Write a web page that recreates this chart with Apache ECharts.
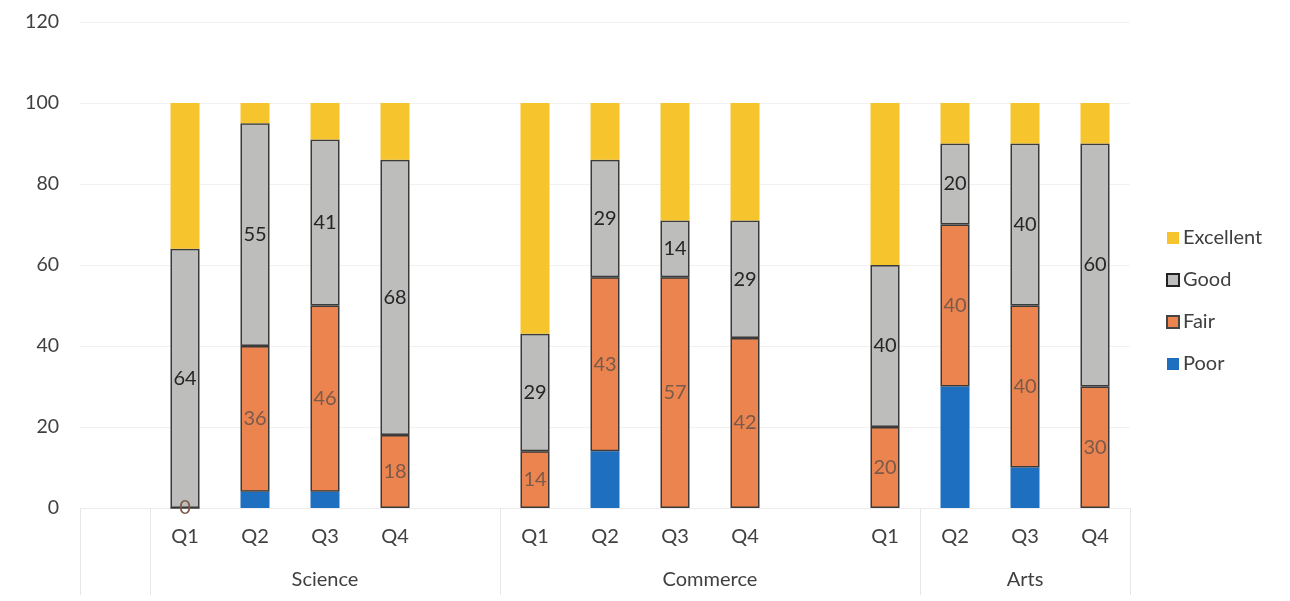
<!DOCTYPE html>
<html>
<head>
<meta charset="utf-8">
<script src="https://cdn.jsdelivr.net/npm/echarts@6/dist/echarts.min.js"></script>
<style>html,body{margin:0;padding:0;background:#fff}#c{width:1290px;height:601px}</style>
</head>
<body>
<div id="c"></div>
<script>
// Category slots (blank slots separate groups, as in the original sheet)
const categories = ['', 'Q1', 'Q2', 'Q3', 'Q4', '', 'Q1', 'Q2', 'Q3', 'Q4', '', 'Q1', 'Q2', 'Q3', 'Q4'];
const poor      = [null, 0, 4, 4, 0, null, 0, 14, 0, 0, null, 0, 30, 10, 0];
const fair      = [null, 0, 36, 46, 18, null, 14, 43, 57, 42, null, 20, 40, 40, 30];
const good      = [null, 64, 55, 41, 68, null, 29, 29, 14, 29, null, 40, 20, 40, 60];
const excellent = [null, 36, 5, 9, 14, null, 57, 14, 29, 29, null, 40, 10, 10, 10];
const yTicks = [0, 20, 40, 60, 80, 100, 120];
// Group row: names and their slot spans [start, end] in half-slot units
const groupNames = ['Science', 'Commerce', 'Arts'];
const groupSpans = [[2, 12], [12, 24], [24, 30]];
const groupBounds = [0, 2, 12, 24, 30];

const halfSlots = [];
for (let i = 0; i <= categories.length * 2; i++) halfSlots.push('');
groupNames.forEach((n, i) => { halfSlots[(groupSpans[i][0] + groupSpans[i][1]) / 2] = n; });

const FONT = 'Lato';
const txt = '#404040';
const colors = { Poor: '#1f6fc0', Fair: '#ec8450', Good: '#bdbdbb', Excellent: '#f6c42c' };

const chart = echarts.init(document.getElementById('c'), null, { renderer: 'canvas' });
function series(name, data, bordered, label) {
  return {
    name, type: 'bar', stack: 'total', data, xAxisIndex: 0, barWidth: 29,
    itemStyle: bordered ? { color: colors[name], borderColor: '#3a3a3a', borderWidth: 1.5 } : { color: colors[name] },
    label: label ? Object.assign({ show: true, position: 'inside', fontFamily: FONT, fontSize: 20 }, label) : { show: false },
    emphasis: { disabled: true }
  };
}
chart.setOption({
  animation: false,
  textStyle: { fontFamily: FONT },
  grid: { left: 80, right: 160, top: 22, bottom: 93 },
  legend: {
    orient: 'vertical', left: 1166, top: 228, padding: 0,
    itemWidth: 12, itemHeight: 12, itemGap: 22,
    textStyle: { fontFamily: FONT, fontSize: 20, color: txt, lineHeight: 20, padding: [0, 0, 0, -1] },
    data: [
      { name: 'Excellent', icon: 'rect', itemStyle: { color: colors.Excellent, borderWidth: 0 } },
      { name: 'Good', icon: 'rect', itemStyle: { color: colors.Good, borderColor: '#222', borderWidth: 2 } },
      { name: 'Fair', icon: 'rect', itemStyle: { color: colors.Fair, borderColor: '#444', borderWidth: 2 } },
      { name: 'Poor', icon: 'rect', itemStyle: { color: colors.Poor, borderWidth: 0 } }
    ]
  },
  xAxis: [
    {
      type: 'category', data: categories, position: 'bottom',
      axisLine: { show: true, lineStyle: { color: '#ececec' } },
      axisTick: { show: false },
      axisLabel: { interval: 0, fontFamily: FONT, fontSize: 20, color: txt, margin: 19 }
    },
    {
      type: 'category', data: halfSlots, boundaryGap: false, position: 'bottom',
      axisLine: { show: false },
      axisTick: { show: true, length: 87, interval: (i) => groupBounds.indexOf(i) >= 0, lineStyle: { color: '#e6e6e6', width: 1 } },
      axisLabel: { interval: 0, fontFamily: FONT, fontSize: 20, color: txt, margin: 62 }
    }
  ],
  yAxis: {
    type: 'value', min: yTicks[0], max: yTicks[yTicks.length - 1], interval: 20,
    axisLine: { show: false }, axisTick: { show: false },
    axisLabel: { fontFamily: FONT, fontSize: 19.5, color: txt, margin: 21 },
    splitLine: { lineStyle: { color: '#f1f1f1' } }
  },
  series: [
    series('Poor', poor, false, null),
    series('Fair', fair, true, { color: '#7a5a4a' }),
    series('Good', good, true, { color: '#262626' }),
    series('Excellent', excellent, false, null)
  ]
});
</script>
</body>
</html>
